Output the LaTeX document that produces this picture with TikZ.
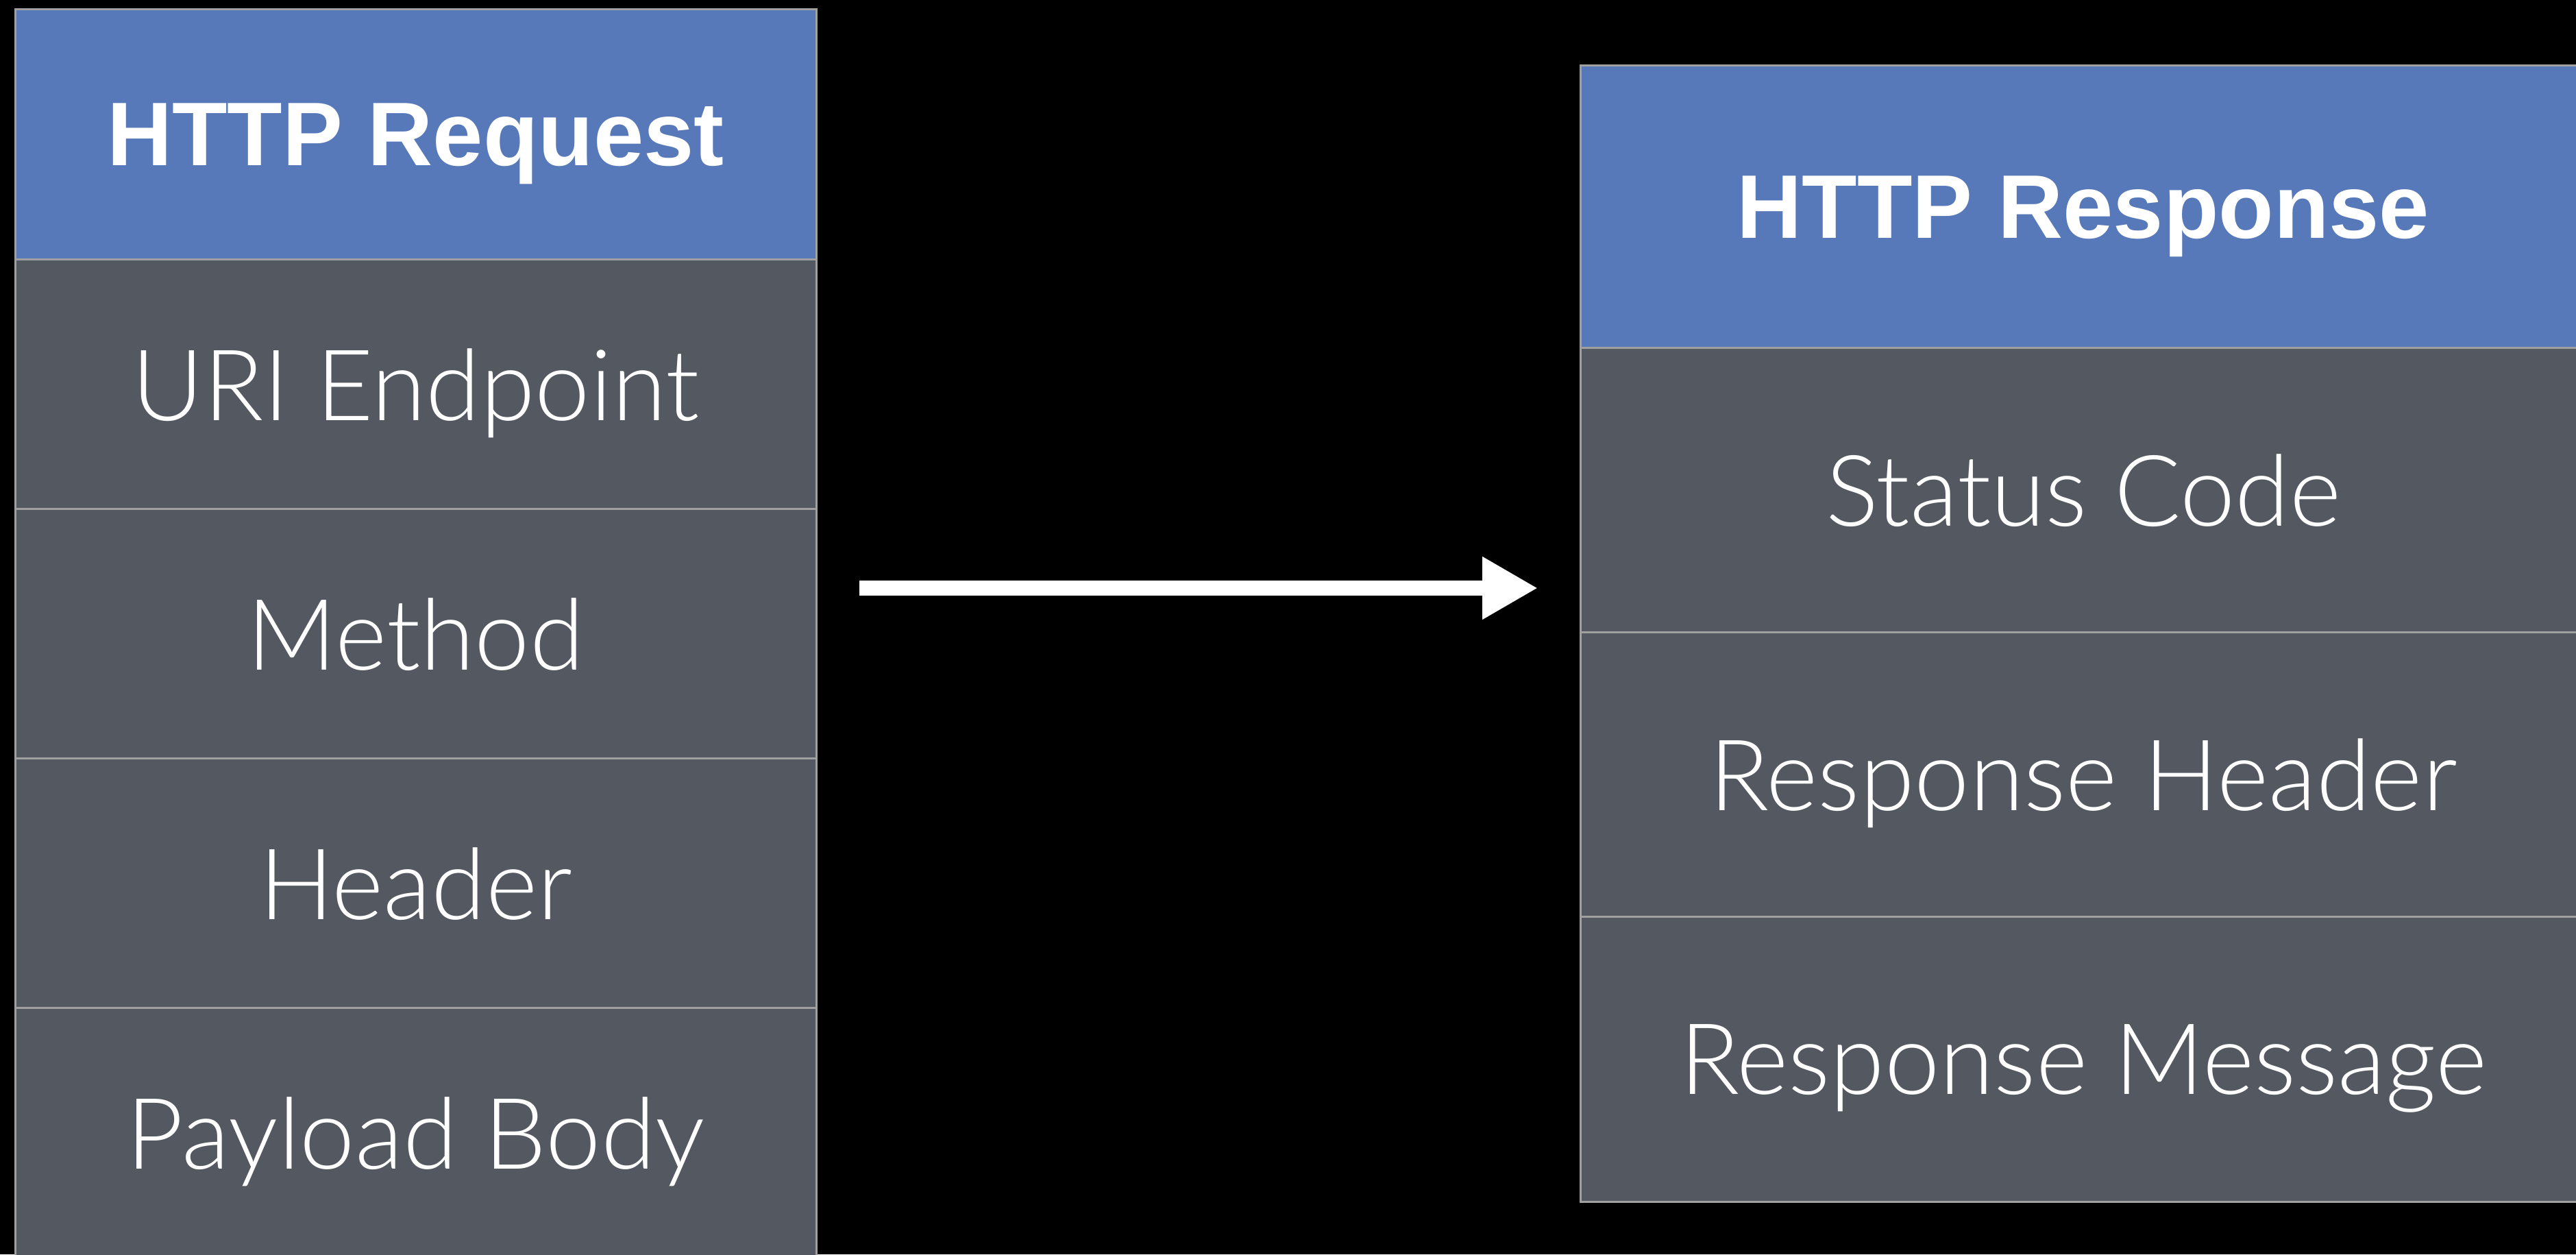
\documentclass[tikz,border=0pt]{standalone}
\usepackage{fontspec}
\setmainfont{Liberation Sans}
\newfontfamily\lightfont{Lato Light}
\usetikzlibrary{positioning,arrows.meta}
\definecolor{headblue}{RGB}{87,120,185}
\definecolor{rowgray}{RGB}{84,88,96}
\definecolor{edgegray}{RGB}{160,160,160}

\begin{document}
\begin{tikzpicture}[head/.style={rectangle,draw=edgegray,fill=headblue,line width=0.03cm,
    text=white,font=\fontsize{37.5}{45}\selectfont\bfseries,text depth=0pt,inner sep=0pt,outer sep=0pt},
row/.style={rectangle,draw=edgegray,fill=rowgray,line width=0.03cm,
    text=white,font=\lightfont\fontsize{41}{49}\selectfont,text depth=0pt,inner sep=0pt,outer sep=0pt},
flow/.style={draw=white,line width=0.22cm,-{Triangle[length=0.81cm,width=0.86cm]}}]
\fill[black] (0,0) rectangle (37.59,18.30);
\useasboundingbox (0,0) rectangle (37.59,18.30);
% request side
\node[head,minimum width=11.69cm,minimum height=3.65cm,anchor=north west] (req) at (0.22,18.16) {HTTP Request};
\node[row,minimum width=11.69cm,minimum height=3.64cm,below=0pt of req] (uri) {URI Endpoint};
\node[row,minimum width=11.69cm,minimum height=3.64cm,below=0pt of uri] (method) {Method};
\node[row,minimum width=11.69cm,minimum height=3.64cm,below=0pt of method] (header) {Header};
\node[row,minimum width=11.69cm,minimum height=3.64cm,below=0pt of header] (payload) {Payload Body};
% response side
\node[head,minimum width=14.68cm,minimum height=4.12cm,anchor=north west] (resp) at (23.06,17.34) {HTTP Response};
\node[row,minimum width=14.68cm,minimum height=4.15cm,below=0pt of resp] (status) {Status Code};
\node[row,minimum width=14.68cm,minimum height=4.15cm,below=0pt of status] (respheader) {Response Header};
\node[row,minimum width=14.68cm,minimum height=4.15cm,below=0pt of respheader] (respmsg) {Response Message};
% arrow
\coordinate (src) at (12.54,9.72);
\coordinate (dst) at (22.44,9.72);
\draw[flow] (src) -- (dst);
\end{tikzpicture}
\end{document}
